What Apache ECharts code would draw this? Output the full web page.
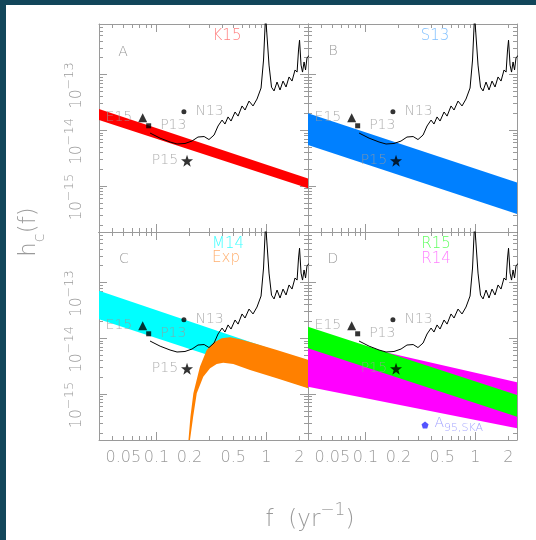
<!DOCTYPE html>
<html>
<head>
<meta charset="utf-8">
<script src="https://cdn.jsdelivr.net/npm/echarts@6/dist/echarts.min.js"></script>
<style>
html, body { margin: 0; padding: 0; background: #12465a; }
#chart { position: absolute; left: 6px; top: 5px; width: 530px; height: 535px; background: #ffffff; }
</style>
</head>
<body>
<div id="chart"></div>
<script>
// axis ranges and ticks
var xMin = 0.03, xMax = 2.4
var yMin = 1.5e-16, yMax = 8e-13
var xMajorTicks = [0.1, 1]
var xMinorTicks = [0.03, 0.04, 0.05, 0.06, 0.07, 0.08, 0.09, 0.2, 0.3, 0.4, 0.5, 0.6, 0.7, 0.8, 0.9, 2]
var xLabels = [0.05, 0.1, 0.2, 0.5, 1, 2]
var yMajorTicks = [1e-15, 1e-14, 1e-13]
var yMinorTicks = [2e-16, 3e-16, 4e-16, 5e-16, 6e-16, 7e-16, 8e-16, 9e-16,
  2e-15, 3e-15, 4e-15, 5e-15, 6e-15, 7e-15, 8e-15, 9e-15,
  2e-14, 3e-14, 4e-14, 5e-14, 6e-14, 7e-14, 8e-14, 9e-14,
  2e-13, 3e-13, 4e-13, 5e-13, 6e-13, 7e-13, 8e-13]

// sensitivity curve (same in every panel)
var curveF = [0.0875, 0.108, 0.133, 0.154, 0.182, 0.211, 0.239, 0.272, 0.301, 0.335, 0.364, 0.396, 0.421, 0.449,
  0.478, 0.520, 0.554, 0.602, 0.641, 0.697, 0.758, 0.824, 0.897, 0.945, 0.986, 1.017, 1.06, 1.117, 1.178, 1.254,
  1.335, 1.422, 1.514, 1.613, 1.717, 1.829, 1.909, 1.968, 2.01, 2.075, 2.14, 2.21, 2.28, 2.35, 2.46]
var curveH = [8.9e-15, 7.2e-15, 6.15e-15, 5.66e-15, 5.78e-15, 6.4e-15, 7.55e-15, 7.7e-15, 6.8e-15, 8.2e-15, 1.19e-14,
  1.52e-14, 1.29e-14, 1.73e-14, 1.46e-14, 2.12e-14, 1.79e-14, 2.72e-14, 2.3e-14, 3.33e-14, 2.72e-14, 3.62e-14,
  5.7e-14, 1.81e-13, 1.16e-12, 1.16e-12, 1.47e-13, 5.9e-14, 5.05e-14, 7.3e-14, 5.25e-14, 7.6e-14, 5.94e-14, 9e-14,
  7.6e-14, 1.2e-13, 1.1e-13, 2.74e-13, 4.1e-13, 1.47e-13, 1.1e-13, 1.67e-13, 1.2e-13, 1.97e-13, 2.2e-13]

// upper limits (same in every panel)
var pointNames = ['E15', 'P13', 'N13', 'P15']
var pointF = [0.075, 0.085, 0.178, 0.19]
var pointH = [1.67e-14, 1.2e-14, 2.15e-14, 2.84e-15]

// bands
var bandF = [0.03, 2.4]
var k15Hi = [2.4e-14, 1.37e-15], k15Lo = [1.52e-14, 9.1e-16]
var s13Hi = [2.01e-14, 1.16e-15], s13Lo = [5.43e-15, 3.15e-16]
var m14Hi = [7.1e-14, 3.82e-15], m14Lo = [2.18e-14, 1.3e-15]
var r15Hi = [1.61e-14, 9.6e-16], r15Lo = [6.59e-15, 3.92e-16]
var r14Hi = [1.16e-14, 1.62e-15], r14Lo = [1.35e-15, 2.43e-16]
var expTopF = [0.194, 0.204, 0.217, 0.249, 0.287, 0.330, 0.393, 0.468, 0.577, 0.819, 1.247, 2.42]
var expTopH = [1.2e-16, 3.9e-16, 1.03e-15, 3.08e-15, 6.15e-15, 8.3e-15, 9.95e-15, 1.04e-14, 9.55e-15, 7.87e-15, 6.15e-15, 4.07e-15]
var expBotF = [0.199, 0.216, 0.233, 0.267, 0.308, 0.354, 0.406, 0.501, 0.712, 1.247, 2.42]
var expBotH = [1.2e-16, 3.9e-16, 1.03e-15, 2.04e-15, 2.89e-15, 3.45e-15, 3.64e-15, 3.45e-15, 2.69e-15, 1.91e-15, 1.26e-15]

// SKA point
var skaF = [0.349]
var skaH = [2.78e-16]

var FONT = 'DejaVu Sans'
var GRAY = '#9a9a9a'
var FRAME = '#9a9a9a'
var STAR = 'path://M0,-10L2.35,-3.24L9.51,-3.09L3.8,1.24L5.88,8.09L0,4L-5.88,8.09L-3.8,1.24L-9.51,-3.09L-2.35,-3.24Z'
var PENTA = 'path://M0,-10L9.51,-3.09L5.88,8.09L-5.88,8.09L-9.51,-3.09Z'

var chart = echarts.init(document.getElementById('chart'))

var panels = [
  { left: 93, top: 19, xLab: false, yLab: true, mid: true },
  { left: 302, top: 19, xLab: false, yLab: false, mid: true },
  { left: 93, top: 227, xLab: true, yLab: true, mid: false },
  { left: 302, top: 227, xLab: true, yLab: false, mid: false }
]

var grids = [], xAxes = [], yAxes = [], series = []

function mkAxis(dim, i, pos, ticks, len, lineColor, label) {
  var ax = {
    type: 'log', logBase: 10, gridIndex: i, position: pos,
    min: dim === 'x' ? xMin : yMin, max: dim === 'x' ? xMax : yMax,
    splitLine: { show: false },
    axisLine: { show: !!lineColor, onZero: false, lineStyle: { color: lineColor || FRAME, width: 1 } },
    axisTick: { show: true, inside: true, length: len, customValues: ticks, lineStyle: { color: FRAME, width: 1 } },
    axisLabel: { show: false }
  }
  if (label) ax.axisLabel = label
  return ax
}

var xLabelStyle = {
  show: true, customValues: xLabels, margin: 10, color: GRAY, fontSize: 16, fontFamily: FONT, fontWeight: 200,
  formatter: function (v) { return String(+(+v).toPrecision(2)) }
}
var yLabelStyle = {
  show: true, customValues: yMajorTicks, rotate: 90, margin: 14, padding: [0, 22, 0, 0],
  formatter: function (v) { return '{b|10}{s|\u2212' + (-Math.round(Math.log10(v))) + '}' },
  rich: {
    b: { color: GRAY, fontSize: 15, fontFamily: FONT, fontWeight: 200, lineHeight: 22, verticalAlign: 'bottom' },
    s: { color: GRAY, fontSize: 13, fontFamily: FONT, fontWeight: 200, lineHeight: 14, verticalAlign: 'top' }
  }
}

function band(i, fU, hU, fL, hL, color) {
  return {
    type: 'custom', xAxisIndex: i * 4, yAxisIndex: i * 4, clip: true, silent: true,
    data: [[fU[0], hU[0]]],
    renderItem: function (params, api) {
      var pts = fU.map(function (f, k) { return api.coord([f, hU[k]]) })
      for (var k = fL.length - 1; k >= 0; k--) pts.push(api.coord([fL[k], hL[k]]))
      return { type: 'polygon', shape: { points: pts }, style: { fill: color } }
    }
  }
}

var pointSymbols = ['triangle', 'rect', 'circle', STAR]
var pointSizes = [9, 5, 5, 12]
var pointLabelPos = ['left', 'right', 'right', 'left']
var pointLabelDist = [6, 9, 9, 3]

panels.forEach(function (p, i) {
  grids.push({ left: p.left, top: p.top, width: 209, height: 208 })
  xAxes.push(mkAxis('x', i, 'bottom', xMajorTicks, 8, p.mid ? '#333333' : FRAME, p.xLab ? xLabelStyle : null))
  xAxes.push(mkAxis('x', i, 'bottom', xMinorTicks, 4))
  xAxes.push(mkAxis('x', i, 'top', xMajorTicks, 8, FRAME))
  xAxes.push(mkAxis('x', i, 'top', xMinorTicks, 4))
  yAxes.push(mkAxis('y', i, 'left', yMajorTicks, 8, FRAME, p.yLab ? yLabelStyle : null))
  yAxes.push(mkAxis('y', i, 'left', yMinorTicks, 4))
  yAxes.push(mkAxis('y', i, 'right', yMajorTicks, 8, FRAME))
  yAxes.push(mkAxis('y', i, 'right', yMinorTicks, 4))
})

// bands
series.push(band(0, bandF, k15Hi, bandF, k15Lo, '#ff0000'))
series.push(band(1, bandF, s13Hi, bandF, s13Lo, '#0080ff'))
series.push(band(2, bandF, m14Hi, bandF, m14Lo, '#00ffff'))
series.push(band(2, expTopF, expTopH, expBotF, expBotH, '#ff8000'))
series.push(band(3, bandF, r14Hi, bandF, r14Lo, '#ff00ff'))
series.push(band(3, bandF, r15Hi, bandF, r15Lo, '#00ff00'))

panels.forEach(function (p, i) {
  series.push({
    type: 'line', xAxisIndex: i * 4, yAxisIndex: i * 4, clip: true, silent: true,
    showSymbol: false, symbol: 'none',
    lineStyle: { color: '#000000', width: 1 },
    data: curveF.map(function (f, k) { return [f, curveH[k]] })
  })
  series.push({
    type: 'scatter', xAxisIndex: i * 4, yAxisIndex: i * 4, silent: true,
    itemStyle: { color: '#000000' },
    data: pointF.map(function (f, k) {
      return {
        value: [f, pointH[k]], name: pointNames[k], symbol: pointSymbols[k], symbolSize: pointSizes[k],
        label: { show: true, position: pointLabelPos[k], distance: pointLabelDist[k], formatter: '{b}',
          color: GRAY, fontSize: 14, fontFamily: FONT, fontWeight: 200 }
      }
    })
  })
})

series.push({
  type: 'scatter', xAxisIndex: 12, yAxisIndex: 12, silent: true,
  symbol: PENTA, symbolSize: 7, itemStyle: { color: '#2828ff' },
  data: skaF.map(function (f, k) { return [f, skaH[k]] }),
  label: {
    show: true, position: 'right', distance: 6, formatter: '{a|A}{s|95,SKA}',
    rich: {
      a: { color: '#8c8cff', fontSize: 14, fontFamily: FONT, fontWeight: 200, lineHeight: 18, verticalAlign: 'top' },
      s: { color: '#8c8cff', fontSize: 11, fontFamily: FONT, fontWeight: 200, lineHeight: 12, verticalAlign: 'bottom' }
    }
  }
})

function txt(x, y, s, color, size) {
  return { type: 'text', x: x, y: y, silent: true, z: 100,
    style: { text: s, fill: color, font: '200 ' + size + 'px ' + FONT, align: 'center', verticalAlign: 'middle' } }
}

var graphics = [
  txt(117, 47, 'A', GRAY, 14), txt(221, 31, 'K15', '#ff8080', 15),
  txt(327, 46, 'B', GRAY, 14), txt(429, 31, 'S13', '#80c0ff', 15),
  txt(118, 254, 'C', GRAY, 14), txt(222, 239, 'M14', '#40ffff', 15), txt(220, 253, 'Exp', '#ffb070', 15),
  txt(327, 254, 'D', GRAY, 14), txt(430, 239, 'R15', '#60ff60', 15), txt(430, 254, 'R14', '#ff80ff', 15),
  {
    type: 'text', x: 304, y: 512, silent: true,
    style: {
      text: '{t|f  (yr}{s|\u22121}{t|)}', align: 'center', verticalAlign: 'middle',
      rich: {
        t: { fill: GRAY, font: '200 23px ' + FONT, lineHeight: 30, verticalAlign: 'bottom' },
        s: { fill: GRAY, font: '200 17px ' + FONT, lineHeight: 18, verticalAlign: 'top' }
      }
    }
  },
  {
    type: 'text', x: 27, y: 227, rotation: Math.PI / 2, silent: true,
    style: {
      text: '{t|h}{s|c}{t|(f)}', align: 'center', verticalAlign: 'middle',
      rich: {
        t: { fill: GRAY, font: '200 23px ' + FONT, lineHeight: 30, verticalAlign: 'top' },
        s: { fill: GRAY, font: '200 16px ' + FONT, lineHeight: 18, verticalAlign: 'bottom' }
      }
    }
  }
]

chart.setOption({
  animation: false,
  grid: grids,
  xAxis: xAxes,
  yAxis: yAxes,
  series: series,
  graphic: graphics
})
</script>
</body>
</html>
